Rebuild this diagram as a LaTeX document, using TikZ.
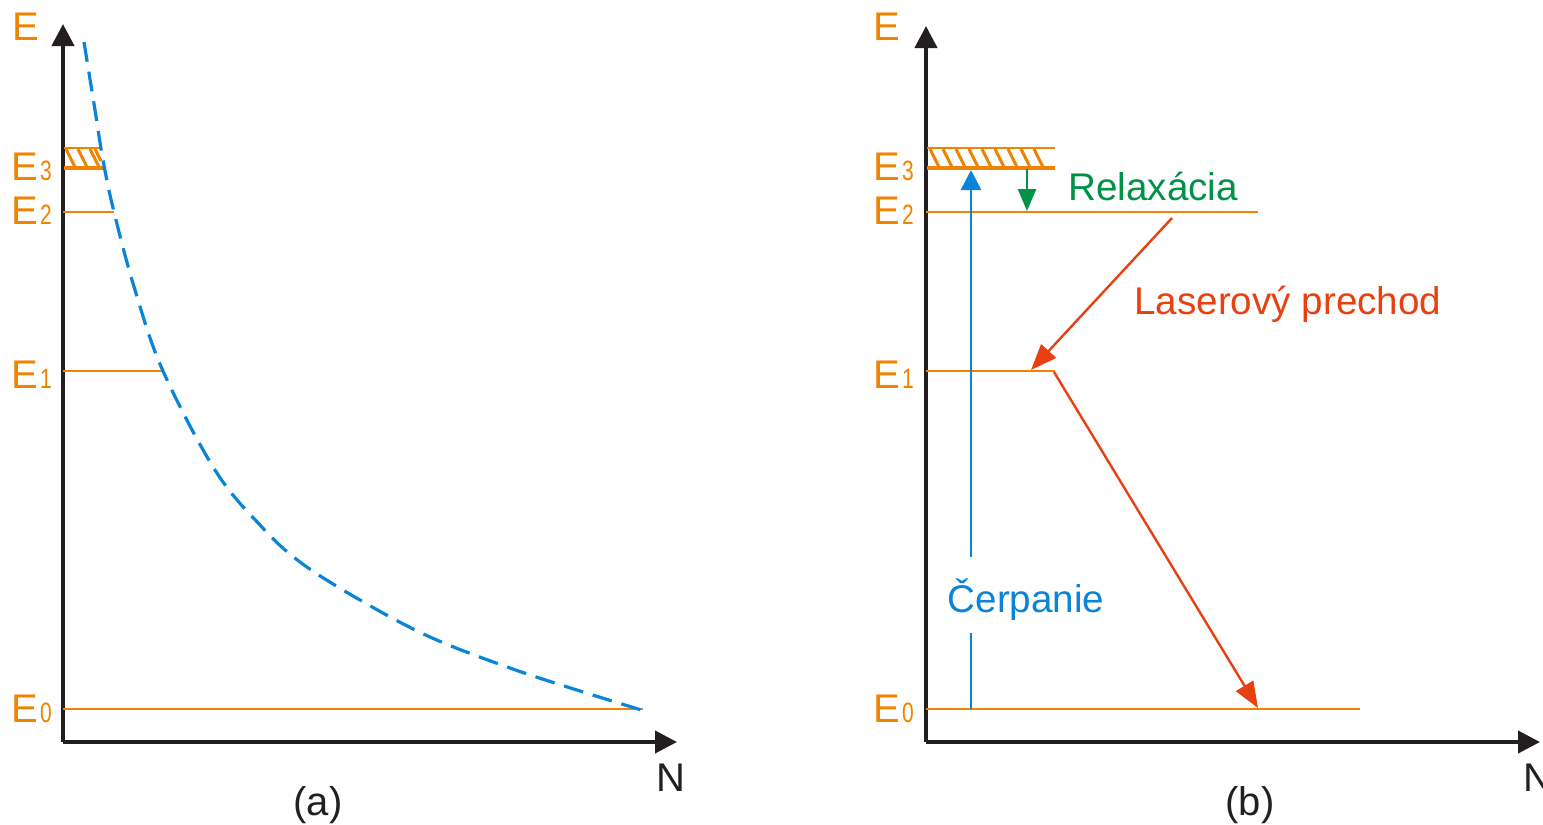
\documentclass[tikz,border=0pt]{standalone}
\usepackage{fontspec}
\setmainfont{Liberation Sans}
\usetikzlibrary{arrows.meta}
\definecolor{lvl}{RGB}{240,131,0}
\definecolor{axc}{RGB}{35,31,32}
\definecolor{pump}{RGB}{10,132,216}
\definecolor{relax}{RGB}{0,146,69}
\definecolor{laser}{RGB}{232,64,16}
\newcommand{\Elab}[1]{E\kern1pt\scalebox{0.75}[1]{\fontsize{14pt}{14pt}\selectfont #1}}
\tikzset{
  axis/.style={draw=axc,line width=2pt,-{Triangle[length=11pt,width=11pt]}},
  level/.style={draw=lvl,line width=1.1pt},
  elabel/.style={text=lvl,font=\fontsize{20pt}{20pt}\selectfont,anchor=base west,inner sep=0pt},
  blabel/.style={text=axc,font=\fontsize{20pt}{20pt}\selectfont,anchor=base,inner sep=0pt},
  curve/.style={draw=pump,line width=1.6pt,dash pattern=on 10pt off 5pt},
  hatch/.style={draw=lvl,line width=1.5pt},
  redarr/.style={draw=laser,line width=1.2pt,-{Triangle[length=13pt,width=10pt]}},
  ctext/.style={font=\fontsize{19.3pt}{19.3pt}\selectfont,inner sep=0pt},
}
\begin{document}
\begin{tikzpicture}[x=0.5pt,y=-0.5pt]
\useasboundingbox (0,0) rectangle (1543,825);
% ---------- panel (a) ----------
\coordinate (aO) at (63,742);
\coordinate (aY) at (63,24);
\coordinate (aX) at (677,742);
\draw[axis] (aO) -- (aY);
\draw[axis] (aO) -- (aX);
\node[elabel] (aE) at (12,40) {E};
\node[blabel] (aN) at (671,791) {N};
\node[blabel] (acap) at (318,815) {(a)};
\node[elabel] (aE3) at (11,180) {\Elab{3}};
\node[elabel] (aE2) at (11,224) {\Elab{2}};
\node[elabel] (aE1) at (11,388) {\Elab{1}};
\node[elabel] (aE0) at (11,722) {\Elab{0}};
\draw[level] (63,709) coordinate (a0s) -- (643,709) coordinate (a0e);
\draw[level] (63,371) coordinate (a1s) -- (163,371) coordinate (a1e);
\draw[level] (63,212) coordinate (a2s) -- (114,212) coordinate (a2e);
\draw[draw=lvl,line width=1.3pt] (64,148) -- (101,148);
\draw[draw=lvl,line width=2.2pt] (64,168) -- (103,168);
\foreach \x in {66,78,90} \draw[hatch] (\x,149) -- (\x+9,167);
\draw[hatch] (95,149) -- (101,161);
\draw[curve] plot[smooth,tension=0.6] coordinates {(84,42) (95,110) (103,160) (114,212) (135,290) (163,371) (215,470) (260,525) (300,562) (360,600) (430,637) (510,668) (580,691) (648,712)};
% ---------- panel (b) ----------
\coordinate (bO) at (926,742);
\coordinate (bY) at (926,26);
\coordinate (bX) at (1540,742);
\draw[axis] (bO) -- (bY);
\draw[axis] (bO) -- (bX);
\node[elabel] (bE) at (873,40) {E};
\node[blabel] (bN) at (1538,791) {N};
\node[blabel] (bcap) at (1250,815) {(b)};
\node[elabel] (bE3) at (873,180) {\Elab{3}};
\node[elabel] (bE2) at (873,224) {\Elab{2}};
\node[elabel] (bE1) at (873,388) {\Elab{1}};
\node[elabel] (bE0) at (873,722) {\Elab{0}};
\draw[level] (926,709) coordinate (b0s) -- (1360,709) coordinate (b0e);
\draw[level] (926,371) coordinate (b1s) -- (1055,371) coordinate (b1e);
\draw[level] (926,212) coordinate (b2s) -- (1258,212) coordinate (b2e);
\draw[draw=lvl,line width=1.3pt] (927,148) -- (1055,148);
\draw[draw=lvl,line width=2.2pt] (927,168) -- (1055,168);
\foreach \x in {930,943,...,1043} \draw[hatch] (\x,149) -- (\x+9,167);
% pumping
\node[ctext,text=pump] (pumpT) at (1026,600) {Čerpanie};
\coordinate (pB) at (971,709);
\coordinate (pT) at (971,170);
\coordinate (pG1) at (971,633);
\coordinate (pG2) at (971,557);
\draw[draw=pump,line width=1.3pt] (pB) -- (pG1);
\draw[draw=pump,line width=1.3pt,-{Triangle[length=10pt,width=10pt]}] (pG2) -- (pT);
% relaxation
\coordinate (rS) at (1027,169);
\coordinate (rE) at (1027,211);
\draw[draw=relax,line width=1.3pt,-{Triangle[length=11pt,width=9pt]}] (rS) -- (rE);
\node[ctext,text=relax,anchor=base west] (relT) at (1068,200) {Relaxácia};
% laser
\node[ctext,text=laser,anchor=base west] (lasT) at (1134,314) {Laserový prechod};
\coordinate (l1S) at (1172,218);
\coordinate (l1E) at (1031,370);
\draw[redarr] (l1S) -- (l1E);
\coordinate (l2S) at (1054,372);
\coordinate (l2E) at (1258,708);
\draw[redarr] (l2S) -- (l2E);
\end{tikzpicture}
\end{document}
